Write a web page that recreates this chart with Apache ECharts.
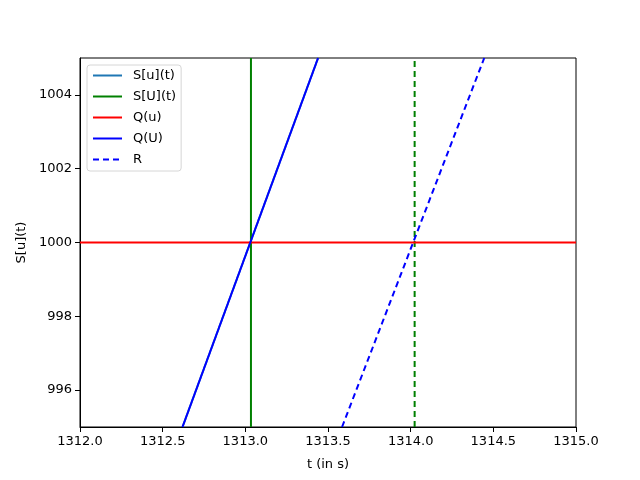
<!DOCTYPE html>
<html>
<head>
<meta charset="utf-8">
<script src="https://cdn.jsdelivr.net/npm/echarts@6/dist/echarts.min.js"></script>
<style>
  html, body { margin: 0; padding: 0; background: #fff; }
  #chart { width: 640px; height: 480px; }
</style>
</head>
<body>
<div id="chart"></div>
<script>
// axis ranges and ticks
var xTicks = [1312.0, 1312.5, 1313.0, 1313.5, 1314.0, 1314.5, 1315.0];
var yTicks = [996, 998, 1000, 1002, 1004];

// series as [t, value]
var sLowerT = [[1312.62, 995], [1313.44, 1005]];   // S[u](t)
var sUpperT = [[1313.034, 995], [1313.034, 1005]]; // S[U](t)
var qLower = [[1312, 1000], [1315, 1000]];         // Q(u)
var qUpper = [[1312.62, 995], [1313.44, 1005]];    // Q(U)
var rLine = [[1313.585, 995], [1314.445, 1005]];   // R
var rVert = [[1314.024, 995], [1314.024, 1005]];   // vertical dashed at R crossing

var font = "DejaVu Sans";
var chart = echarts.init(document.getElementById("chart"));

function lineSeries(name, data, color, type, z) {
  return {
    name: name,
    type: "line",
    data: data,
    symbol: "none",
    silent: true,
    animation: false,
    z: z,
    lineStyle: { color: color, width: 2, type: type },
    itemStyle: { color: color }
  };
}

chart.setOption({
  animation: false,
  textStyle: { fontFamily: font },
  grid: {
    left: 80, right: 64, top: 58, bottom: 53,
    show: true, borderColor: "#000", borderWidth: 1, backgroundColor: "#fff"
  },
  legend: {
    orient: "vertical",
    left: 87, top: 65,
    padding: [3, 5, 4, 5],
    itemGap: 6,
    itemWidth: 29,
    itemHeight: 14,
    backgroundColor: "#fff",
    borderColor: "#d6d6d6",
    borderWidth: 1,
    borderRadius: 3,
    itemStyle: { color: "rgba(0,0,0,0)", borderWidth: 0, opacity: 0 },
    textStyle: { fontFamily: font, fontSize: 13, color: "#000", padding: [0, 0, 0, 6], lineHeight: 15 },
    data: ["S[u](t)", "S[U](t)", "Q(u)", "Q(U)", "R"]
  },
  xAxis: {
    type: "value",
    min: 1312, max: 1315, interval: 0.5,
    name: "t (in s)",
    nameLocation: "middle",
    nameGap: 31,
    nameTextStyle: { fontFamily: font, fontSize: 13, color: "#000" },
    splitLine: { show: false },
    axisLine: { lineStyle: { color: "#000", width: 1 } },
    axisTick: { length: 5, lineStyle: { color: "#000" } },
    axisLabel: {
      fontFamily: font, fontSize: 13, color: "#000", margin: 8,
      showMinLabel: true, showMaxLabel: true,
      formatter: function (v) { return v.toFixed(1); }
    }
  },
  yAxis: {
    type: "value",
    min: 995, max: 1005,
    name: "S[u](t)",
    nameLocation: "middle",
    nameGap: 51,
    nameRotate: 90,
    nameTextStyle: { fontFamily: font, fontSize: 13, color: "#000" },
    splitLine: { show: false },
    axisLine: { lineStyle: { color: "#000", width: 1 } },
    axisTick: { length: 5, lineStyle: { color: "#000" }, customValues: yTicks },
    axisLabel: {
      fontFamily: font, fontSize: 13, color: "#000", margin: 8,
      customValues: yTicks,
      formatter: function (v) { return String(v); }
    }
  },
  series: [
    lineSeries("S[u](t)", sLowerT, "#1f77b4", "solid", 2),
    lineSeries("S[U](t)", sUpperT, "#008000", "solid", 3),
    lineSeries("Q(u)", qLower, "#ff0000", "solid", 4),
    lineSeries("Q(U)", qUpper, "#0000ff", "solid", 5),
    lineSeries("R", rLine, "#0000ff", [6, 4], 6),
    {
      type: "line",
      data: rVert,
      symbol: "none",
      silent: true,
      z: 3,
      lineStyle: { color: "#008000", width: 2, type: [6, 4] }
    }
  ]
});
</script>
</body>
</html>
